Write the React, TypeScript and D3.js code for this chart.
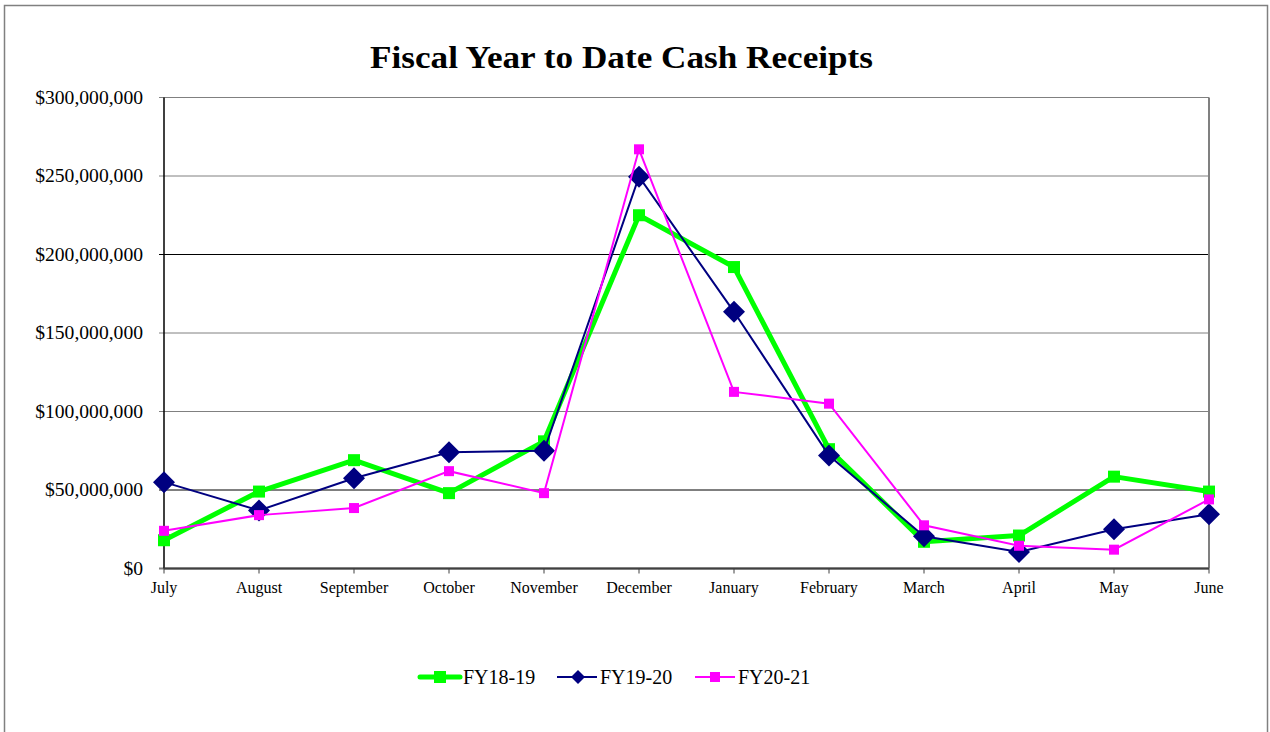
import * as d3 from "d3";

const months = [
  "July", "August", "September", "October", "November", "December",
  "January", "February", "March", "April", "May", "June",
];

// values in dollars
const fy1819 = [18e6, 49e6, 69e6, 48e6, 81e6, 225e6, 192e6, 76e6, 17e6, 21e6, 58.5e6, 49e6];
const fy1920 = [55e6, 37e6, 57.5e6, 74e6, 75e6, 249.5e6, 163.5e6, 72e6, 20.5e6, 10.5e6, 25e6, 34.5e6];
const fy2021 = [24e6, 34e6, 38.5e6, 62e6, 48e6, 267e6, 112.5e6, 105e6, 27.5e6, 14.5e6, 12e6, 44e6];

const yTicks = [0, 50e6, 100e6, 150e6, 200e6, 250e6, 300e6];

const W = 1270;
const H = 732;
const plot = { left: 164, right: 1209, top: 97.5, bottom: 568.5 };
const FONT = "'Liberation Serif', 'Times New Roman', serif";

export default function App() {
  const x = d3.scalePoint<string>().domain(months).range([plot.left, plot.right]);
  const y = d3.scaleLinear().domain([0, 300e6]).range([plot.bottom, plot.top]);
  const fmt = (v: number) => "$" + d3.format(",")(v);

  const line = (vals: number[]) =>
    d3.line<number>().x((_, i) => x(months[i])!).y((v) => y(v))(vals) || "";

  const diamond = (cx: number, cy: number, r: number) =>
    `M${cx},${cy - r}L${cx + r},${cy}L${cx},${cy + r}L${cx - r},${cy}Z`;

  const legY = 677;

  return (
    <svg
      width={W}
      height={H}
      style={{ position: "absolute", left: 0, top: 0, background: "#fff" }}
      fontFamily={FONT}
    >
      {/* outer chart border */}
      <rect x={4.5} y={5.5} width={1263} height={740} fill="none" stroke="#808080" strokeWidth={1.5} />

      <text
        x={370}
        y={68}
        fontSize={32}
        fontWeight="bold"
        fill="#000"
        textLength={503}
        lengthAdjust="spacingAndGlyphs"
      >
        Fiscal Year to Date Cash Receipts
      </text>

      {/* gridlines */}
      {yTicks.map((t) => (
        <line
          key={t}
          x1={plot.left - 5}
          x2={plot.right}
          y1={y(t)}
          y2={y(t)}
          stroke={t === 50e6 || t === 200e6 ? "#000" : "#808080"}
          strokeWidth={t === 0 ? 2 : 1}
        />
      ))}
      <line x1={plot.right} x2={plot.right} y1={plot.top} y2={plot.bottom} stroke="#808080" strokeWidth={2} />
      <line x1={plot.left} x2={plot.left} y1={plot.top} y2={plot.bottom} stroke="#000" strokeWidth={1.5} />
      <line x1={plot.left} x2={plot.right} y1={plot.bottom} y2={plot.bottom} stroke="#404040" strokeWidth={2} />

      {yTicks.map((t) => (
        <text
          key={t}
          transform={`translate(${plot.left - 21},${y(t) + 6}) scale(1.09,1)`}
          textAnchor="end"
          fontSize={18}
          fill="#000"
        >
          {fmt(t)}
        </text>
      ))}

      {months.map((m) => (
        <g key={m}>
          <line x1={x(m)} x2={x(m)} y1={plot.bottom} y2={plot.bottom + 5} stroke="#404040" strokeWidth={1} />
          <text x={x(m)} y={plot.bottom + 24} textAnchor="middle" fontSize={16} fill="#000">
            {m}
          </text>
        </g>
      ))}

      {/* series */}
      <path d={line(fy1819)} fill="none" stroke="#00ff00" strokeWidth={5} strokeLinejoin="round" />
      {fy1819.map((v, i) => (
        <rect key={i} x={x(months[i])! - 6} y={y(v) - 6} width={12} height={12} fill="#00ff00" />
      ))}
      <path d={line(fy1920)} fill="none" stroke="#000080" strokeWidth={2} />
      {fy1920.map((v, i) => (
        <path key={i} d={diamond(x(months[i])!, y(v), 11)} fill="#000080" />
      ))}
      <path d={line(fy2021)} fill="none" stroke="#ff00ff" strokeWidth={2} />
      {fy2021.map((v, i) => (
        <rect key={i} x={x(months[i])! - 5} y={y(v) - 5} width={10} height={10} fill="#ff00ff" />
      ))}

      {/* legend */}
      <g>
        <line x1={420} x2={460} y1={legY} y2={legY} stroke="#00ff00" strokeWidth={5} strokeLinecap="round" />
        <rect x={434} y={legY - 6} width={12} height={12} fill="#00ff00" />
        <text x={463} y={legY + 7} fontSize={20}>FY18-19</text>

        <line x1={557} x2={597} y1={legY} y2={legY} stroke="#000080" strokeWidth={2} />
        <path d={diamond(578, legY, 7)} fill="#000080" />
        <text x={600} y={legY + 7} fontSize={20}>FY19-20</text>

        <line x1={695} x2={735} y1={legY} y2={legY} stroke="#ff00ff" strokeWidth={2} />
        <rect x={710} y={legY - 5} width={10} height={10} fill="#ff00ff" />
        <text x={738} y={legY + 7} fontSize={20}>FY20-21</text>
      </g>
    </svg>
  );
}
